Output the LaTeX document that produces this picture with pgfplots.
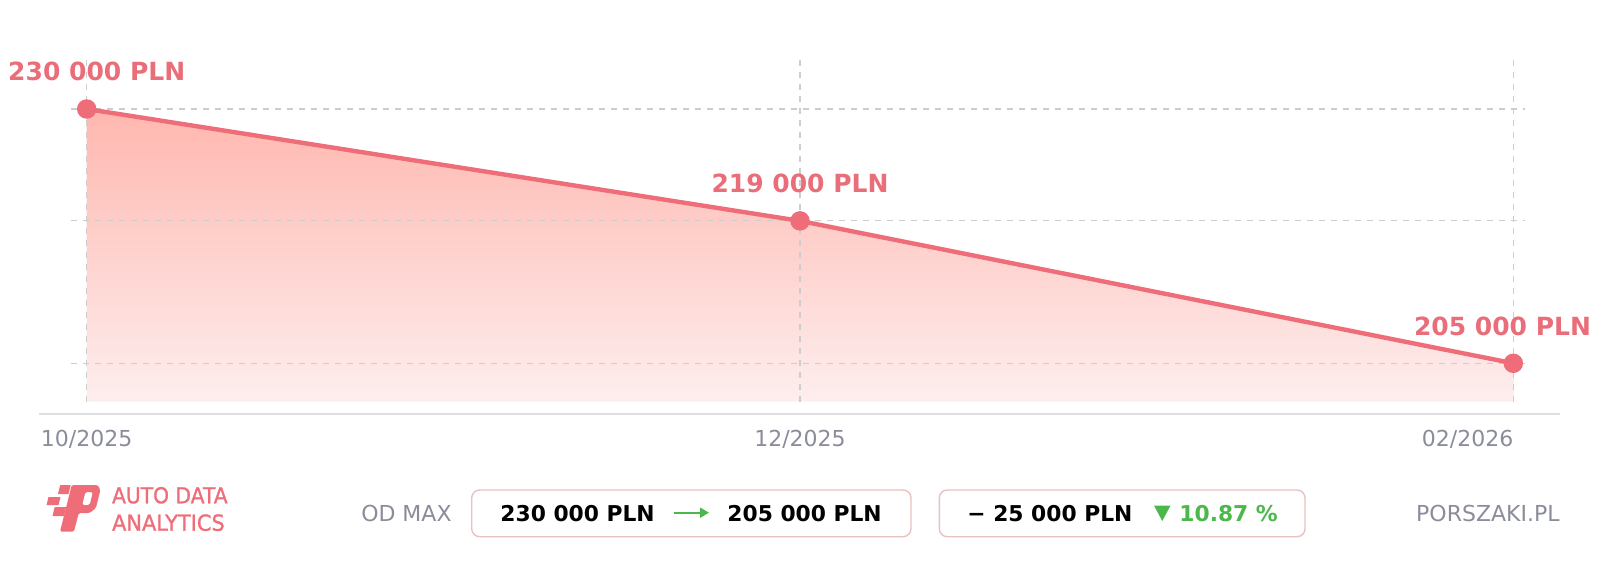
\documentclass[border=0pt]{standalone}
\usepackage{pgfplots}
\pgfplotsset{compat=1.18}
\usepackage{fontspec}
\setmainfont{DejaVu Sans}
\newfontfamily\logofont[FakeBold=1.2]{DejaVu Sans}
\usepackage{graphicx}
\usetikzlibrary{arrows.meta}
\definecolor{linec}{HTML}{EE6D78}
\definecolor{labc}{HTML}{E96E79}
\definecolor{gridc}{HTML}{CDCDCD}
\definecolor{tickc}{HTML}{8A8C9A}
\definecolor{boxc}{HTML}{E8C2C2}
\definecolor{greenc}{HTML}{4CB84C}
\definecolor{axisc}{HTML}{DDDDE2}
\definecolor{filltop}{HTML}{FFB7AF}
\definecolor{fillbot}{HTML}{FDEEEE}
\tikzset{gridline/.style={draw=gridc, line width=0.6pt, dash pattern=on 3pt off 3pt}}
\begin{document}
\begin{tikzpicture}
\useasboundingbox (0,0) rectangle (800pt,284.5pt);
\begin{axis}[
  at={(35.5pt,83.65pt)}, anchor=south west,
  scale only axis, width=727pt, height=172.85pt,
  xmin=-0.022, xmax=2.0164, ymin=201.224, ymax=235.21,
  axis line style={draw=none}, tick style={draw=none}, major tick length=0pt,
  xtick={0,1,2}, xticklabels={10/2025,12/2025,\llap{02/2026}},
  ytick={205,219,230}, yticklabels={},
  grid=major,
  major grid style={gridline},
  xticklabel style={anchor=base, yshift=-22.15pt, font=\fontsize{11}{13}\selectfont, text=tickc},
  clip=false,
]
\addplot[draw=none, top color=filltop, bottom color=fillbot]
  coordinates {(0,230) (1,219) (2,205) (2,201.224) (0,201.224)} -- cycle;
% grid lines again, over the filled area
\draw[gridline] (axis cs:-0.022,230) -- (axis cs:2.0164,230);
\draw[gridline] (axis cs:-0.022,219) -- (axis cs:2.0164,219);
\draw[gridline] (axis cs:-0.022,205) -- (axis cs:2.0164,205);
\draw[gridline] (axis cs:0,201.224) -- (axis cs:0,235.21);
\draw[gridline] (axis cs:1,201.224) -- (axis cs:1,235.21);
\draw[gridline] (axis cs:2,201.224) -- (axis cs:2,235.21);
\addplot[linec, line width=2.2pt, mark=*, mark size=3.75pt, mark options={draw=none, fill=linec}]
  coordinates {(0,230) (1,219) (2,205)};
\node[anchor=base, inner sep=0, text=labc, font=\fontsize{12.5}{14}\selectfont\bfseries, xshift=5pt, yshift=14pt] at (axis cs:0,230) {230 000 PLN};
\node[anchor=base, inner sep=0, text=labc, font=\fontsize{12.5}{14}\selectfont\bfseries, yshift=14pt] at (axis cs:1,219) {219 000 PLN};
\node[anchor=base, inner sep=0, text=labc, font=\fontsize{12.5}{14}\selectfont\bfseries, xshift=-5.4pt, yshift=14pt] at (axis cs:2,205) {205 000 PLN};
\end{axis}
\begin{scope}[shift={(0pt,284.5pt)}, x=0.5pt, y=-0.5pt]
\draw[axisc, line width=0.7pt] (39.3,414) -- (1560,414);
% logo
\fill[linec, even odd rule, rounded corners=0.8pt] (60,531.7) -- (74,531.7) -- (78.7,513) -- (89.7,513) -- (95.9,508) -- (100.4,490) -- (97.7,485) -- (71.7,485) -- cycle
  (85.4,492) -- (92.9,492) -- (89.7,505) -- (82.2,505) -- cycle;
\fill[linec] (58,494) -- (68.5,494) -- (70.7,485) -- (60.2,485) -- cycle;
\fill[linec] (46.5,505) -- (58.5,505) -- (60.5,497) -- (48.5,497) -- cycle;
\fill[linec] (52.5,516) -- (64,516) -- (66.2,507) -- (54.7,507) -- cycle;
\node[anchor=base west, inner sep=0, text=linec, font=\logofont\fontsize{11}{13}\selectfont] at (111.7,503.3) {\scalebox{0.92}[1]{AUTO DATA}};
\node[anchor=base west, inner sep=0, text=linec, font=\logofont\fontsize{11}{13}\selectfont] at (111.7,530.7) {\scalebox{0.95}[1]{ANALYTICS}};
% bottom row
\node[anchor=base east, inner sep=0, text=tickc, font=\fontsize{11}{13}\selectfont] at (452,521) {OD MAX};
\draw[boxc, line width=0.7pt, rounded corners=4pt] (471.7,490) rectangle (911,536.7);
\draw[boxc, line width=0.7pt, rounded corners=4pt] (939.3,490) rectangle (1305,536.7);
\node[anchor=base west, inner sep=0, font=\fontsize{10.9}{13}\selectfont\bfseries] at (500,521) {230 000 PLN};
\draw[greenc, line width=1.1pt, -{Triangle[length=4.5pt,width=5pt]}] (674,512.7) -- (709,512.7);
\node[anchor=base west, inner sep=0, font=\fontsize{10.9}{13}\selectfont\bfseries] at (727,521) {205 000 PLN};
\node[anchor=base west, inner sep=0, font=\fontsize{10.9}{13}\selectfont\bfseries] at (967,521) {− 25 000 PLN};
\fill[greenc] (1154,505.5) -- (1170.5,505.5) -- (1162.25,521) -- cycle;
\node[anchor=base west, inner sep=0, text=greenc, font=\fontsize{10.9}{13}\selectfont\bfseries] at (1179,521) {10.87 \%};
\node[anchor=base east, inner sep=0, text=tickc, font=\fontsize{11}{13}\selectfont] at (1560,521) {PORSZAKI.PL};
\end{scope}
\end{tikzpicture}
\end{document}
